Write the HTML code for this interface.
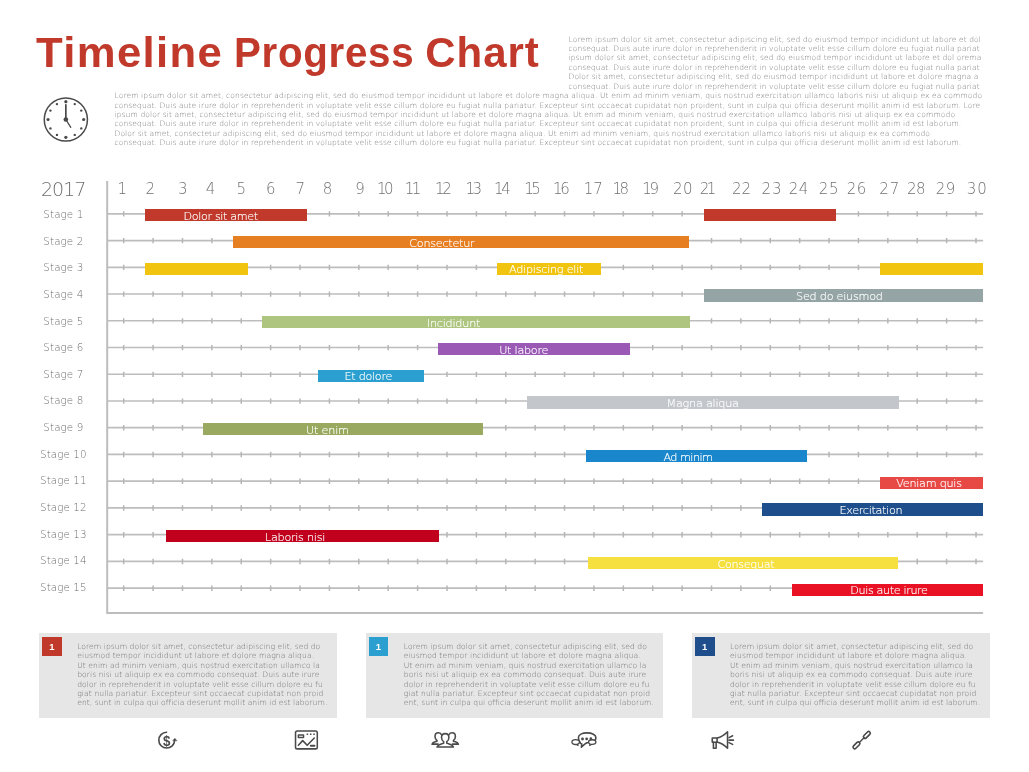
<!DOCTYPE html>
<html lang="en">
<head>
<meta charset="utf-8">
<title>Timeline Progress Chart</title>
<style>
html,body{margin:0;padding:0;background:#fff;}
body{width:1029px;height:772px;position:relative;overflow:hidden;font-family:'DejaVu Sans Light','DejaVu Sans','Liberation Sans',sans-serif;}
h1,p,ol,li,header,main,section,article,footer{margin:0;padding:0;font-size:inherit;font-weight:inherit;list-style:none;}
.t{position:absolute;white-space:nowrap;line-height:1;margin:0;padding:0;}
.lorem{color:#7a7a7a;font-weight:200;}
.ptext{color:#707070;font-weight:200;}
.title{font-family:'Liberation Sans','DejaVu Sans',sans-serif;font-weight:bold;color:#c0392b;}
.year{color:#6e6e6e;font-weight:200;}
.day{color:#707070;font-weight:200;}
.stage{color:#6c6c6c;font-weight:200;}
.barlabel{color:#fff;font-weight:200;-webkit-text-stroke:0.15px #fff;}
.pnum{font-family:'Liberation Sans','DejaVu Sans',sans-serif;font-weight:bold;color:#fff;}
.bar{position:absolute;height:12.3px;}
.panelbg{position:absolute;top:633.2px;height:84.6px;width:297.5px;background:#e6e6e6;}
.pbox{position:absolute;top:636.6px;width:19.8px;height:19.5px;}
svg{position:absolute;left:0;top:0;}
</style>
</head>
<body>
<header class="head">
<h1><span class="t title" style="font-size:42px;left:35.80px;top:32.30px;letter-spacing:1.290px;transform:scaleX(1.04);transform-origin:0 0;">Timeline</span> <span class="t title" style="font-size:42px;left:234.00px;top:32.30px;letter-spacing:0.713px;transform:scaleX(0.96);transform-origin:0 0;">Progress</span> <span class="t title" style="font-size:42px;left:425.30px;top:32.30px;letter-spacing:0.928px;">Chart</span></h1>
<svg class="clock" width="1029" height="772" viewBox="0 0 1029 772" aria-label="clock">
<g id="clock" fill="#4a4a4a" stroke="none">
<circle cx="65.85" cy="119.50" r="21.6" fill="none" stroke="#4a4a4a" stroke-width="1.5"/>
<circle cx="65.85" cy="101.70" r="1.60"/>
<circle cx="74.75" cy="104.08" r="1.20"/>
<circle cx="81.27" cy="110.60" r="1.20"/>
<circle cx="83.65" cy="119.50" r="1.60"/>
<circle cx="81.27" cy="128.40" r="1.20"/>
<circle cx="74.75" cy="134.92" r="1.20"/>
<circle cx="65.85" cy="137.30" r="1.60"/>
<circle cx="56.95" cy="134.92" r="1.20"/>
<circle cx="50.43" cy="128.40" r="1.20"/>
<circle cx="48.05" cy="119.50" r="1.60"/>
<circle cx="50.43" cy="110.60" r="1.20"/>
<circle cx="56.95" cy="104.08" r="1.20"/>
<circle cx="65.85" cy="119.50" r="2.3"/>
<path d="M65.85 119.50V104.80" stroke="#4a4a4a" stroke-width="1.7" stroke-linecap="round" fill="none"/>
<path d="M65.85 119.50L70.75 127.30" stroke="#4a4a4a" stroke-width="1.3" stroke-linecap="round" fill="none"/>
</g>
</svg>
<div class="intro">
<p class="t lorem" style="font-size:7.5px;left:568.50px;top:35.65px;letter-spacing:0.120px;">Lorem ipsum dolor sit amet, consectetur adipiscing elit, sed do eiusmod tempor incididunt ut labore et dol</p>
<p class="t lorem" style="font-size:7.5px;left:568.50px;top:45.07px;letter-spacing:0.095px;">consequat. Duis aute irure dolor in reprehenderit in voluptate velit esse cillum dolore eu fugiat nulla pariat</p>
<p class="t lorem" style="font-size:7.5px;left:568.50px;top:54.49px;letter-spacing:0.118px;">ipsum dolor sit amet, consectetur adipiscing elit, sed do eiusmod tempor incididunt ut labore et dol orema</p>
<p class="t lorem" style="font-size:7.5px;left:568.50px;top:63.91px;letter-spacing:0.095px;">consequat. Duis aute irure dolor in reprehenderit in voluptate velit esse cillum dolore eu fugiat nulla pariat</p>
<p class="t lorem" style="font-size:7.5px;left:568.50px;top:73.33px;letter-spacing:0.124px;">Dolor sit amet, consectetur adipiscing elit, sed do eiusmod tempor incididunt ut labore et dolore magna a</p>
<p class="t lorem" style="font-size:7.5px;left:568.50px;top:82.75px;letter-spacing:0.095px;">consequat. Duis aute irure dolor in reprehenderit in voluptate velit esse cillum dolore eu fugiat nulla pariat</p>
<p class="t lorem" style="font-size:7.5px;left:114.50px;top:92.17px;letter-spacing:0.124px;">Lorem ipsum dolor sit amet, consectetur adipiscing elit, sed do eiusmod tempor incididunt ut labore et dolore magna aliqua. Ut enim ad minim veniam, quis nostrud exercitation ullamco laboris nisi ut aliquip ex ea commodo</p>
<p class="t lorem" style="font-size:7.5px;left:114.50px;top:101.59px;letter-spacing:0.107px;">consequat. Duis aute irure dolor in reprehenderit in voluptate velit esse cillum dolore eu fugiat nulla pariatur. Excepteur sint occaecat cupidatat non proident, sunt in culpa qui officia deserunt mollit anim id est laborum. Lore</p>
<p class="t lorem" style="font-size:7.5px;left:114.50px;top:111.01px;letter-spacing:0.122px;">ipsum dolor sit amet, consectetur adipiscing elit, sed do eiusmod tempor incididunt ut labore et dolore magna aliqua. Ut enim ad minim veniam, quis nostrud exercitation ullamco laboris nisi ut aliquip ex ea commodo</p>
<p class="t lorem" style="font-size:7.5px;left:114.50px;top:120.43px;letter-spacing:0.108px;">consequat. Duis aute irure dolor in reprehenderit in voluptate velit esse cillum dolore eu fugiat nulla pariatur. Excepteur sint occaecat cupidatat non proident, sunt in culpa qui officia deserunt mollit anim id est laborum.</p>
<p class="t lorem" style="font-size:7.5px;left:114.50px;top:129.85px;letter-spacing:0.121px;">Dolor sit amet, consectetur adipiscing elit, sed do eiusmod tempor incididunt ut labore et dolore magna aliqua. Ut enim ad minim veniam, quis nostrud exercitation ullamco laboris nisi ut aliquip ex ea commodo</p>
<p class="t lorem" style="font-size:7.5px;left:114.50px;top:139.27px;letter-spacing:0.108px;">consequat. Duis aute irure dolor in reprehenderit in voluptate velit esse cillum dolore eu fugiat nulla pariatur. Excepteur sint occaecat cupidatat non proident, sunt in culpa qui officia deserunt mollit anim id est laborum.</p>
</div>
</header>
<main class="chart">
<svg class="grid" width="1029" height="772" viewBox="0 0 1029 772"><g stroke="#bdbdbd" fill="none"><path d="M107.2 181V613H983.1" stroke-width="2"/><path d="M107.2 213.80H983.1M107.2 240.54H983.1M107.2 267.28H983.1M107.2 294.02H983.1M107.2 320.76H983.1M107.2 347.50H983.1M107.2 374.24H983.1M107.2 400.98H983.1M107.2 427.72H983.1M107.2 454.46H983.1M107.2 481.20H983.1M107.2 507.94H983.1M107.2 534.68H983.1M107.2 561.42H983.1M107.2 588.16H983.1" stroke-width="1.7"/><path d="M123.70 211.20v5.4M153.09 211.20v5.4M182.48 211.20v5.4M211.87 211.20v5.4M241.26 211.20v5.4M270.65 211.20v5.4M300.04 211.20v5.4M329.43 211.20v5.4M358.82 211.20v5.4M388.21 211.20v5.4M417.60 211.20v5.4M446.99 211.20v5.4M476.38 211.20v5.4M505.77 211.20v5.4M535.16 211.20v5.4M564.55 211.20v5.4M593.94 211.20v5.4M623.33 211.20v5.4M652.72 211.20v5.4M682.11 211.20v5.4M711.50 211.20v5.4M740.89 211.20v5.4M770.28 211.20v5.4M799.67 211.20v5.4M829.06 211.20v5.4M858.45 211.20v5.4M887.84 211.20v5.4M917.23 211.20v5.4M946.62 211.20v5.4M976.01 211.20v5.4M123.70 237.94v5.4M153.09 237.94v5.4M182.48 237.94v5.4M211.87 237.94v5.4M241.26 237.94v5.4M270.65 237.94v5.4M300.04 237.94v5.4M329.43 237.94v5.4M358.82 237.94v5.4M388.21 237.94v5.4M417.60 237.94v5.4M446.99 237.94v5.4M476.38 237.94v5.4M505.77 237.94v5.4M535.16 237.94v5.4M564.55 237.94v5.4M593.94 237.94v5.4M623.33 237.94v5.4M652.72 237.94v5.4M682.11 237.94v5.4M711.50 237.94v5.4M740.89 237.94v5.4M770.28 237.94v5.4M799.67 237.94v5.4M829.06 237.94v5.4M858.45 237.94v5.4M887.84 237.94v5.4M917.23 237.94v5.4M946.62 237.94v5.4M976.01 237.94v5.4M123.70 264.68v5.4M153.09 264.68v5.4M182.48 264.68v5.4M211.87 264.68v5.4M241.26 264.68v5.4M270.65 264.68v5.4M300.04 264.68v5.4M329.43 264.68v5.4M358.82 264.68v5.4M388.21 264.68v5.4M417.60 264.68v5.4M446.99 264.68v5.4M476.38 264.68v5.4M505.77 264.68v5.4M535.16 264.68v5.4M564.55 264.68v5.4M593.94 264.68v5.4M623.33 264.68v5.4M652.72 264.68v5.4M682.11 264.68v5.4M711.50 264.68v5.4M740.89 264.68v5.4M770.28 264.68v5.4M799.67 264.68v5.4M829.06 264.68v5.4M858.45 264.68v5.4M887.84 264.68v5.4M917.23 264.68v5.4M946.62 264.68v5.4M976.01 264.68v5.4M123.70 291.42v5.4M153.09 291.42v5.4M182.48 291.42v5.4M211.87 291.42v5.4M241.26 291.42v5.4M270.65 291.42v5.4M300.04 291.42v5.4M329.43 291.42v5.4M358.82 291.42v5.4M388.21 291.42v5.4M417.60 291.42v5.4M446.99 291.42v5.4M476.38 291.42v5.4M505.77 291.42v5.4M535.16 291.42v5.4M564.55 291.42v5.4M593.94 291.42v5.4M623.33 291.42v5.4M652.72 291.42v5.4M682.11 291.42v5.4M711.50 291.42v5.4M740.89 291.42v5.4M770.28 291.42v5.4M799.67 291.42v5.4M829.06 291.42v5.4M858.45 291.42v5.4M887.84 291.42v5.4M917.23 291.42v5.4M946.62 291.42v5.4M976.01 291.42v5.4M123.70 318.16v5.4M153.09 318.16v5.4M182.48 318.16v5.4M211.87 318.16v5.4M241.26 318.16v5.4M270.65 318.16v5.4M300.04 318.16v5.4M329.43 318.16v5.4M358.82 318.16v5.4M388.21 318.16v5.4M417.60 318.16v5.4M446.99 318.16v5.4M476.38 318.16v5.4M505.77 318.16v5.4M535.16 318.16v5.4M564.55 318.16v5.4M593.94 318.16v5.4M623.33 318.16v5.4M652.72 318.16v5.4M682.11 318.16v5.4M711.50 318.16v5.4M740.89 318.16v5.4M770.28 318.16v5.4M799.67 318.16v5.4M829.06 318.16v5.4M858.45 318.16v5.4M887.84 318.16v5.4M917.23 318.16v5.4M946.62 318.16v5.4M976.01 318.16v5.4M123.70 344.90v5.4M153.09 344.90v5.4M182.48 344.90v5.4M211.87 344.90v5.4M241.26 344.90v5.4M270.65 344.90v5.4M300.04 344.90v5.4M329.43 344.90v5.4M358.82 344.90v5.4M388.21 344.90v5.4M417.60 344.90v5.4M446.99 344.90v5.4M476.38 344.90v5.4M505.77 344.90v5.4M535.16 344.90v5.4M564.55 344.90v5.4M593.94 344.90v5.4M623.33 344.90v5.4M652.72 344.90v5.4M682.11 344.90v5.4M711.50 344.90v5.4M740.89 344.90v5.4M770.28 344.90v5.4M799.67 344.90v5.4M829.06 344.90v5.4M858.45 344.90v5.4M887.84 344.90v5.4M917.23 344.90v5.4M946.62 344.90v5.4M976.01 344.90v5.4M123.70 371.64v5.4M153.09 371.64v5.4M182.48 371.64v5.4M211.87 371.64v5.4M241.26 371.64v5.4M270.65 371.64v5.4M300.04 371.64v5.4M329.43 371.64v5.4M358.82 371.64v5.4M388.21 371.64v5.4M417.60 371.64v5.4M446.99 371.64v5.4M476.38 371.64v5.4M505.77 371.64v5.4M535.16 371.64v5.4M564.55 371.64v5.4M593.94 371.64v5.4M623.33 371.64v5.4M652.72 371.64v5.4M682.11 371.64v5.4M711.50 371.64v5.4M740.89 371.64v5.4M770.28 371.64v5.4M799.67 371.64v5.4M829.06 371.64v5.4M858.45 371.64v5.4M887.84 371.64v5.4M917.23 371.64v5.4M946.62 371.64v5.4M976.01 371.64v5.4M123.70 398.38v5.4M153.09 398.38v5.4M182.48 398.38v5.4M211.87 398.38v5.4M241.26 398.38v5.4M270.65 398.38v5.4M300.04 398.38v5.4M329.43 398.38v5.4M358.82 398.38v5.4M388.21 398.38v5.4M417.60 398.38v5.4M446.99 398.38v5.4M476.38 398.38v5.4M505.77 398.38v5.4M535.16 398.38v5.4M564.55 398.38v5.4M593.94 398.38v5.4M623.33 398.38v5.4M652.72 398.38v5.4M682.11 398.38v5.4M711.50 398.38v5.4M740.89 398.38v5.4M770.28 398.38v5.4M799.67 398.38v5.4M829.06 398.38v5.4M858.45 398.38v5.4M887.84 398.38v5.4M917.23 398.38v5.4M946.62 398.38v5.4M976.01 398.38v5.4M123.70 425.12v5.4M153.09 425.12v5.4M182.48 425.12v5.4M211.87 425.12v5.4M241.26 425.12v5.4M270.65 425.12v5.4M300.04 425.12v5.4M329.43 425.12v5.4M358.82 425.12v5.4M388.21 425.12v5.4M417.60 425.12v5.4M446.99 425.12v5.4M476.38 425.12v5.4M505.77 425.12v5.4M535.16 425.12v5.4M564.55 425.12v5.4M593.94 425.12v5.4M623.33 425.12v5.4M652.72 425.12v5.4M682.11 425.12v5.4M711.50 425.12v5.4M740.89 425.12v5.4M770.28 425.12v5.4M799.67 425.12v5.4M829.06 425.12v5.4M858.45 425.12v5.4M887.84 425.12v5.4M917.23 425.12v5.4M946.62 425.12v5.4M976.01 425.12v5.4M123.70 451.86v5.4M153.09 451.86v5.4M182.48 451.86v5.4M211.87 451.86v5.4M241.26 451.86v5.4M270.65 451.86v5.4M300.04 451.86v5.4M329.43 451.86v5.4M358.82 451.86v5.4M388.21 451.86v5.4M417.60 451.86v5.4M446.99 451.86v5.4M476.38 451.86v5.4M505.77 451.86v5.4M535.16 451.86v5.4M564.55 451.86v5.4M593.94 451.86v5.4M623.33 451.86v5.4M652.72 451.86v5.4M682.11 451.86v5.4M711.50 451.86v5.4M740.89 451.86v5.4M770.28 451.86v5.4M799.67 451.86v5.4M829.06 451.86v5.4M858.45 451.86v5.4M887.84 451.86v5.4M917.23 451.86v5.4M946.62 451.86v5.4M976.01 451.86v5.4M123.70 478.60v5.4M153.09 478.60v5.4M182.48 478.60v5.4M211.87 478.60v5.4M241.26 478.60v5.4M270.65 478.60v5.4M300.04 478.60v5.4M329.43 478.60v5.4M358.82 478.60v5.4M388.21 478.60v5.4M417.60 478.60v5.4M446.99 478.60v5.4M476.38 478.60v5.4M505.77 478.60v5.4M535.16 478.60v5.4M564.55 478.60v5.4M593.94 478.60v5.4M623.33 478.60v5.4M652.72 478.60v5.4M682.11 478.60v5.4M711.50 478.60v5.4M740.89 478.60v5.4M770.28 478.60v5.4M799.67 478.60v5.4M829.06 478.60v5.4M858.45 478.60v5.4M887.84 478.60v5.4M917.23 478.60v5.4M946.62 478.60v5.4M976.01 478.60v5.4M123.70 505.34v5.4M153.09 505.34v5.4M182.48 505.34v5.4M211.87 505.34v5.4M241.26 505.34v5.4M270.65 505.34v5.4M300.04 505.34v5.4M329.43 505.34v5.4M358.82 505.34v5.4M388.21 505.34v5.4M417.60 505.34v5.4M446.99 505.34v5.4M476.38 505.34v5.4M505.77 505.34v5.4M535.16 505.34v5.4M564.55 505.34v5.4M593.94 505.34v5.4M623.33 505.34v5.4M652.72 505.34v5.4M682.11 505.34v5.4M711.50 505.34v5.4M740.89 505.34v5.4M770.28 505.34v5.4M799.67 505.34v5.4M829.06 505.34v5.4M858.45 505.34v5.4M887.84 505.34v5.4M917.23 505.34v5.4M946.62 505.34v5.4M976.01 505.34v5.4M123.70 532.08v5.4M153.09 532.08v5.4M182.48 532.08v5.4M211.87 532.08v5.4M241.26 532.08v5.4M270.65 532.08v5.4M300.04 532.08v5.4M329.43 532.08v5.4M358.82 532.08v5.4M388.21 532.08v5.4M417.60 532.08v5.4M446.99 532.08v5.4M476.38 532.08v5.4M505.77 532.08v5.4M535.16 532.08v5.4M564.55 532.08v5.4M593.94 532.08v5.4M623.33 532.08v5.4M652.72 532.08v5.4M682.11 532.08v5.4M711.50 532.08v5.4M740.89 532.08v5.4M770.28 532.08v5.4M799.67 532.08v5.4M829.06 532.08v5.4M858.45 532.08v5.4M887.84 532.08v5.4M917.23 532.08v5.4M946.62 532.08v5.4M976.01 532.08v5.4M123.70 558.82v5.4M153.09 558.82v5.4M182.48 558.82v5.4M211.87 558.82v5.4M241.26 558.82v5.4M270.65 558.82v5.4M300.04 558.82v5.4M329.43 558.82v5.4M358.82 558.82v5.4M388.21 558.82v5.4M417.60 558.82v5.4M446.99 558.82v5.4M476.38 558.82v5.4M505.77 558.82v5.4M535.16 558.82v5.4M564.55 558.82v5.4M593.94 558.82v5.4M623.33 558.82v5.4M652.72 558.82v5.4M682.11 558.82v5.4M711.50 558.82v5.4M740.89 558.82v5.4M770.28 558.82v5.4M799.67 558.82v5.4M829.06 558.82v5.4M858.45 558.82v5.4M887.84 558.82v5.4M917.23 558.82v5.4M946.62 558.82v5.4M976.01 558.82v5.4M123.70 585.56v5.4M153.09 585.56v5.4M182.48 585.56v5.4M211.87 585.56v5.4M241.26 585.56v5.4M270.65 585.56v5.4M300.04 585.56v5.4M329.43 585.56v5.4M358.82 585.56v5.4M388.21 585.56v5.4M417.60 585.56v5.4M446.99 585.56v5.4M476.38 585.56v5.4M505.77 585.56v5.4M535.16 585.56v5.4M564.55 585.56v5.4M593.94 585.56v5.4M623.33 585.56v5.4M652.72 585.56v5.4M682.11 585.56v5.4M711.50 585.56v5.4M740.89 585.56v5.4M770.28 585.56v5.4M799.67 585.56v5.4M829.06 585.56v5.4M858.45 585.56v5.4M887.84 585.56v5.4M917.23 585.56v5.4M946.62 585.56v5.4M976.01 585.56v5.4" stroke-width="1.5" stroke="#b6b6b6"/></g></svg>
<div class="t year" style="font-size:19.0px;left:40.90px;top:179.75px;letter-spacing:-0.953px;">2017</div>
<ol class="days">
<li class="t day" style="font-size:15.0px;left:117.55px;top:181.90px;">1</li>
<li class="t day" style="font-size:15.0px;left:145.60px;top:181.90px;">2</li>
<li class="t day" style="font-size:15.0px;left:178.10px;top:181.90px;">3</li>
<li class="t day" style="font-size:15.0px;left:205.70px;top:181.90px;">4</li>
<li class="t day" style="font-size:15.0px;left:236.40px;top:181.90px;">5</li>
<li class="t day" style="font-size:15.0px;left:265.90px;top:181.90px;">6</li>
<li class="t day" style="font-size:15.0px;left:295.50px;top:181.90px;">7</li>
<li class="t day" style="font-size:15.0px;left:322.70px;top:181.90px;">8</li>
<li class="t day" style="font-size:15.0px;left:355.30px;top:181.90px;">9</li>
<li class="t day" style="font-size:15.0px;left:376.93px;top:181.90px;letter-spacing:-2.400px;">10</li>
<li class="t day" style="font-size:15.0px;left:404.73px;top:181.90px;letter-spacing:-2.400px;">11</li>
<li class="t day" style="font-size:15.0px;left:435.03px;top:181.90px;letter-spacing:-2.400px;">12</li>
<li class="t day" style="font-size:15.0px;left:465.48px;top:181.90px;letter-spacing:-2.400px;">13</li>
<li class="t day" style="font-size:15.0px;left:494.03px;top:181.90px;letter-spacing:-2.400px;">14</li>
<li class="t day" style="font-size:15.0px;left:524.23px;top:181.90px;letter-spacing:-2.400px;">15</li>
<li class="t day" style="font-size:15.0px;left:553.03px;top:181.90px;letter-spacing:-2.400px;">16</li>
<li class="t day" style="font-size:15.0px;left:583.70px;top:181.90px;letter-spacing:-0.043px;">17</li>
<li class="t day" style="font-size:15.0px;left:612.43px;top:181.90px;letter-spacing:-2.400px;">18</li>
<li class="t day" style="font-size:15.0px;left:642.28px;top:181.90px;letter-spacing:-2.400px;">19</li>
<li class="t day" style="font-size:15.0px;left:673.00px;top:181.90px;letter-spacing:0.557px;">20</li>
<li class="t day" style="font-size:15.0px;left:699.73px;top:181.90px;letter-spacing:-2.400px;">21</li>
<li class="t day" style="font-size:15.0px;left:731.90px;top:181.90px;letter-spacing:-0.043px;">22</li>
<li class="t day" style="font-size:15.0px;left:761.60px;top:181.90px;letter-spacing:0.957px;">23</li>
<li class="t day" style="font-size:15.0px;left:788.80px;top:181.90px;letter-spacing:0.357px;">24</li>
<li class="t day" style="font-size:15.0px;left:818.80px;top:181.90px;letter-spacing:0.557px;">25</li>
<li class="t day" style="font-size:15.0px;left:846.80px;top:181.90px;letter-spacing:0.457px;">26</li>
<li class="t day" style="font-size:15.0px;left:879.30px;top:181.90px;letter-spacing:0.857px;">27</li>
<li class="t day" style="font-size:15.0px;left:906.90px;top:181.90px;letter-spacing:-0.343px;">28</li>
<li class="t day" style="font-size:15.0px;left:935.70px;top:181.90px;letter-spacing:0.457px;">29</li>
<li class="t day" style="font-size:15.0px;left:966.70px;top:181.90px;letter-spacing:1.057px;">30</li>
</ol>
<div class="row">
<span class="t stage" style="font-size:10.3px;letter-spacing:0.12px;left:43.33px;top:209.00px;">Stage 1</span>
<div class="bar" style="left:144.5px;top:209.15px;width:162.0px;background:#c0392b"></div>
<span class="t barlabel" style="font-size:11.2px;left:183.60px;top:210.90px;letter-spacing:-0.376px;">Dolor sit amet</span>
<div class="bar" style="left:703.6px;top:209.15px;width:132.3px;background:#c0392b"></div>
</div>
<div class="row">
<span class="t stage" style="font-size:10.3px;letter-spacing:0.12px;left:43.33px;top:235.64px;">Stage 2</span>
<div class="bar" style="left:232.8px;top:235.89px;width:456.1px;background:#e67e22"></div>
<span class="t barlabel" style="font-size:11.2px;left:409.30px;top:237.64px;letter-spacing:-0.267px;">Consectetur</span>
</div>
<div class="row">
<span class="t stage" style="font-size:10.3px;letter-spacing:0.12px;left:43.33px;top:262.28px;">Stage 3</span>
<div class="bar" style="left:144.5px;top:262.63px;width:103.5px;background:#f1c40f"></div>
<div class="bar" style="left:497.4px;top:262.63px;width:103.4px;background:#f1c40f"></div>
<span class="t barlabel" style="font-size:11.2px;left:509.00px;top:264.38px;letter-spacing:-0.244px;">Adipiscing elit</span>
<div class="bar" style="left:879.7px;top:262.63px;width:103.4px;background:#f1c40f"></div>
</div>
<div class="row">
<span class="t stage" style="font-size:10.3px;letter-spacing:0.12px;left:43.33px;top:288.92px;">Stage 4</span>
<div class="bar" style="left:703.6px;top:289.37px;width:279.5px;background:#95a5a6"></div>
<span class="t barlabel" style="font-size:11.2px;left:796.10px;top:291.12px;letter-spacing:-0.239px;">Sed do eiusmod</span>
</div>
<div class="row">
<span class="t stage" style="font-size:10.3px;letter-spacing:0.12px;left:43.33px;top:315.56px;">Stage 5</span>
<div class="bar" style="left:262.3px;top:316.11px;width:427.9px;background:#adc57f"></div>
<span class="t barlabel" style="font-size:11.2px;left:426.80px;top:317.86px;letter-spacing:-0.215px;">Incididunt</span>
</div>
<div class="row">
<span class="t stage" style="font-size:10.3px;letter-spacing:0.12px;left:43.33px;top:342.20px;">Stage 6</span>
<div class="bar" style="left:438.4px;top:342.85px;width:191.5px;background:#9b59b6"></div>
<span class="t barlabel" style="font-size:11.2px;left:499.20px;top:344.60px;letter-spacing:-0.260px;">Ut labore</span>
</div>
<div class="row">
<span class="t stage" style="font-size:10.3px;letter-spacing:0.12px;left:43.33px;top:368.84px;">Stage 7</span>
<div class="bar" style="left:317.7px;top:369.59px;width:106.4px;background:#2b9fcf"></div>
<span class="t barlabel" style="font-size:11.2px;left:344.50px;top:371.34px;letter-spacing:-0.282px;">Et dolore</span>
</div>
<div class="row">
<span class="t stage" style="font-size:10.3px;letter-spacing:0.12px;left:43.33px;top:395.48px;">Stage 8</span>
<div class="bar" style="left:526.9px;top:396.33px;width:372.1px;background:#c3c6ca"></div>
<span class="t barlabel" style="font-size:11.2px;left:666.50px;top:398.08px;letter-spacing:-0.222px;">Magna aliqua</span>
</div>
<div class="row">
<span class="t stage" style="font-size:10.3px;letter-spacing:0.12px;left:43.33px;top:422.12px;">Stage 9</span>
<div class="bar" style="left:203.3px;top:423.07px;width:279.8px;background:#99a95f"></div>
<span class="t barlabel" style="font-size:11.2px;left:306.10px;top:424.82px;letter-spacing:-0.204px;">Ut enim</span>
</div>
<div class="row">
<span class="t stage" style="font-size:10.3px;letter-spacing:0.12px;left:39.99px;top:448.76px;">Stage 10</span>
<div class="bar" style="left:586.0px;top:449.81px;width:220.9px;background:#1a87cd"></div>
<span class="t barlabel" style="font-size:11.2px;left:663.40px;top:451.56px;letter-spacing:-0.517px;">Ad minim</span>
</div>
<div class="row">
<span class="t stage" style="font-size:10.3px;letter-spacing:0.12px;left:39.99px;top:475.40px;">Stage 11</span>
<div class="bar" style="left:879.7px;top:476.55px;width:103.4px;background:#e74944"></div>
<span class="t barlabel" style="font-size:11.2px;left:896.30px;top:478.30px;letter-spacing:-0.261px;">Veniam quis</span>
</div>
<div class="row">
<span class="t stage" style="font-size:10.3px;letter-spacing:0.12px;left:39.99px;top:502.04px;">Stage 12</span>
<div class="bar" style="left:762.2px;top:503.29px;width:220.9px;background:#1f4e8c"></div>
<span class="t barlabel" style="font-size:11.2px;left:839.50px;top:505.04px;letter-spacing:-0.320px;">Exercitation</span>
</div>
<div class="row">
<span class="t stage" style="font-size:10.3px;letter-spacing:0.12px;left:39.99px;top:528.68px;">Stage 13</span>
<div class="bar" style="left:165.7px;top:530.03px;width:273.1px;background:#c0001d"></div>
<span class="t barlabel" style="font-size:11.2px;left:265.00px;top:531.78px;letter-spacing:-0.270px;">Laboris nisi</span>
</div>
<div class="row">
<span class="t stage" style="font-size:10.3px;letter-spacing:0.12px;left:39.99px;top:555.32px;">Stage 14</span>
<div class="bar" style="left:588.3px;top:556.77px;width:309.3px;background:#f5e040"></div>
<span class="t barlabel" style="font-size:11.2px;left:717.50px;top:558.52px;letter-spacing:-0.338px;">Consequat</span>
</div>
<div class="row">
<span class="t stage" style="font-size:10.3px;letter-spacing:0.12px;left:39.99px;top:581.96px;">Stage 15</span>
<div class="bar" style="left:791.8px;top:583.51px;width:191.3px;background:#e81224"></div>
<span class="t barlabel" style="font-size:11.2px;left:850.20px;top:585.26px;letter-spacing:-0.373px;">Duis aute irure</span>
</div>
</main>
<section class="panels">
<article class="panel">
<div class="panelbg" style="left:39.4px"></div>
<div class="pbox" style="left:42.2px;background:#c0392b"></div>
<span class="t pnum" style="font-size:9.5px;left:49.35px;top:641.90px;">1</span>
<p class="t ptext" style="font-size:7.6px;left:77.20px;top:643.00px;letter-spacing:0.059px;">Lorem ipsum dolor sit amet, consectetur adipiscing elit, sed do</p>
<p class="t ptext" style="font-size:7.6px;left:77.20px;top:652.38px;letter-spacing:0.089px;">eiusmod tempor incididunt ut labore et dolore magna aliqua.</p>
<p class="t ptext" style="font-size:7.6px;left:77.20px;top:661.76px;letter-spacing:0.053px;">Ut enim ad minim veniam, quis nostrud exercitation ullamco la</p>
<p class="t ptext" style="font-size:7.6px;left:77.20px;top:671.14px;letter-spacing:0.062px;">boris nisi ut aliquip ex ea commodo consequat. Duis aute irure</p>
<p class="t ptext" style="font-size:7.6px;left:77.20px;top:680.52px;letter-spacing:0.043px;">dolor in reprehenderit in voluptate velit esse cillum dolore eu fu</p>
<p class="t ptext" style="font-size:7.6px;left:77.20px;top:689.90px;letter-spacing:0.096px;">giat nulla pariatur. Excepteur sint occaecat cupidatat non proid</p>
<p class="t ptext" style="font-size:7.6px;left:77.20px;top:699.28px;letter-spacing:0.048px;">ent, sunt in culpa qui officia deserunt mollit anim id est laborum.</p>
</article>
<article class="panel">
<div class="panelbg" style="left:365.7px"></div>
<div class="pbox" style="left:368.5px;background:#2b9fcf"></div>
<span class="t pnum" style="font-size:9.5px;left:375.65px;top:641.90px;">1</span>
<p class="t ptext" style="font-size:7.6px;left:403.80px;top:643.00px;letter-spacing:0.059px;">Lorem ipsum dolor sit amet, consectetur adipiscing elit, sed do</p>
<p class="t ptext" style="font-size:7.6px;left:403.80px;top:652.38px;letter-spacing:0.089px;">eiusmod tempor incididunt ut labore et dolore magna aliqua.</p>
<p class="t ptext" style="font-size:7.6px;left:403.80px;top:661.76px;letter-spacing:0.053px;">Ut enim ad minim veniam, quis nostrud exercitation ullamco la</p>
<p class="t ptext" style="font-size:7.6px;left:403.80px;top:671.14px;letter-spacing:0.062px;">boris nisi ut aliquip ex ea commodo consequat. Duis aute irure</p>
<p class="t ptext" style="font-size:7.6px;left:403.80px;top:680.52px;letter-spacing:0.043px;">dolor in reprehenderit in voluptate velit esse cillum dolore eu fu</p>
<p class="t ptext" style="font-size:7.6px;left:403.80px;top:689.90px;letter-spacing:0.096px;">giat nulla pariatur. Excepteur sint occaecat cupidatat non proid</p>
<p class="t ptext" style="font-size:7.6px;left:403.80px;top:699.28px;letter-spacing:0.048px;">ent, sunt in culpa qui officia deserunt mollit anim id est laborum.</p>
</article>
<article class="panel">
<div class="panelbg" style="left:692.1px"></div>
<div class="pbox" style="left:694.9px;background:#1f4e8c"></div>
<span class="t pnum" style="font-size:9.5px;left:702.05px;top:641.90px;">1</span>
<p class="t ptext" style="font-size:7.6px;left:730.10px;top:643.00px;letter-spacing:0.059px;">Lorem ipsum dolor sit amet, consectetur adipiscing elit, sed do</p>
<p class="t ptext" style="font-size:7.6px;left:730.10px;top:652.38px;letter-spacing:0.089px;">eiusmod tempor incididunt ut labore et dolore magna aliqua.</p>
<p class="t ptext" style="font-size:7.6px;left:730.10px;top:661.76px;letter-spacing:0.053px;">Ut enim ad minim veniam, quis nostrud exercitation ullamco la</p>
<p class="t ptext" style="font-size:7.6px;left:730.10px;top:671.14px;letter-spacing:0.062px;">boris nisi ut aliquip ex ea commodo consequat. Duis aute irure</p>
<p class="t ptext" style="font-size:7.6px;left:730.10px;top:680.52px;letter-spacing:0.043px;">dolor in reprehenderit in voluptate velit esse cillum dolore eu fu</p>
<p class="t ptext" style="font-size:7.6px;left:730.10px;top:689.90px;letter-spacing:0.096px;">giat nulla pariatur. Excepteur sint occaecat cupidatat non proid</p>
<p class="t ptext" style="font-size:7.6px;left:730.10px;top:699.28px;letter-spacing:0.048px;">ent, sunt in culpa qui officia deserunt mollit anim id est laborum.</p>
</article>
</section>
<footer class="icons">
<svg class="iconrow" width="1029" height="772" viewBox="0 0 1029 772">
<g transform="translate(150 724) scale(0.038873)" fill="none" stroke="#4a4a4a" stroke-width="42" stroke-linecap="round" stroke-linejoin="round"><path d="M425 212 A203 203 0 1 0 633 420"/><path d="M585 425L640 365L692 428Z" fill="#4a4a4a" stroke-width="10"/></g>
<text x="166.75" y="745.6" text-anchor="middle" font-family="'Liberation Sans','DejaVu Sans',sans-serif" font-weight="bold" font-size="15.5" fill="#4a4a4a" transform="translate(166.75 0) scale(0.86 1) translate(-166.75 0)">$</text>
<g transform="translate(286 724) scale(0.038873)" fill="none" stroke="#4a4a4a" stroke-width="40" stroke-linecap="round" stroke-linejoin="round"><rect x="245" y="180" width="560" height="460" rx="45"/><rect x="318" y="283" width="134" height="64" rx="8" stroke-width="38"/><path d="M318 548L430 428L545 548L728 362" stroke-width="40"/><path d="M640 560H730" stroke-width="56"/><path d="M550 262h1M635 262h1M720 262h1" stroke-width="38" stroke-linecap="square"/></g>
<g transform="translate(425 724) scale(0.038873)" fill="none" stroke="#4a4a4a" stroke-width="40" stroke-linecap="round" stroke-linejoin="round"><path d="M418 268C402 240 374 226 345 226C292 226 258 266 258 320C258 364 274 400 308 422L308 442C270 458 195 468 180 518L338 518"/><path d="M622 268C638 240 666 226 695 226C748 226 782 266 782 320C782 364 766 400 732 422L732 442C770 458 845 468 860 518L702 518"/><path d="M480 452C442 430 425 392 425 345C425 288 465 248 520 248C575 248 615 288 615 345C615 392 598 430 560 452L560 492C600 512 705 520 732 592L308 592C335 520 440 512 480 492Z"/></g>
<g transform="translate(565 724) scale(0.038873)" fill="none" stroke="#4a4a4a" stroke-width="40" stroke-linecap="round" stroke-linejoin="round"><path d="M398 492C362 452 345 402 345 350C345 275 445 228 570 228C695 228 795 280 795 350C795 400 770 440 720 460C670 478 600 480 562 482L508 516L420 598L432 514C415 508 404 500 398 492Z" fill="#fff"/><path d="M275 403C220 403 178 430 178 465C178 500 220 527 275 527L300 527L335 550L325 520C355 510 372 490 372 465C372 430 330 403 275 403Z" fill="#fff" stroke-width="34"/><path d="M700 405C755 405 795 432 795 465C795 498 755 525 700 525L670 527L635 550L645 518C620 508 605 488 605 465C605 432 645 405 700 405Z" fill="#fff" stroke-width="34"/><circle cx="450" cy="387" r="37" fill="#4a4a4a" stroke="none"/><circle cx="557" cy="385" r="36" fill="#4a4a4a" stroke="none"/><circle cx="665" cy="378" r="34" fill="#4a4a4a" stroke="none"/></g>
<g transform="translate(700 724) scale(0.038873)" fill="none" stroke="#4a4a4a" stroke-width="40" stroke-linecap="round" stroke-linejoin="round"><rect x="315" y="358" width="125" height="110" rx="8"/><path d="M345 470V622H415V470"/><path d="M440 362C540 340 640 270 708 200V625C640 555 540 490 440 465"/><path d="M745 350L840 302M745 415H860M745 478L840 525" stroke-width="40"/></g>
<g transform="translate(840 724) scale(0.038873)" fill="none" stroke="#4a4a4a" stroke-width="42" stroke-linecap="round" stroke-linejoin="round"><g transform="rotate(-45 557 415)"><rect x="262" y="373" width="212" height="84" rx="42"/><rect x="641" y="373" width="212" height="84" rx="42"/><path d="M474 415H641" stroke-width="36"/></g></g>
</svg>
</footer>
</body>
</html>
